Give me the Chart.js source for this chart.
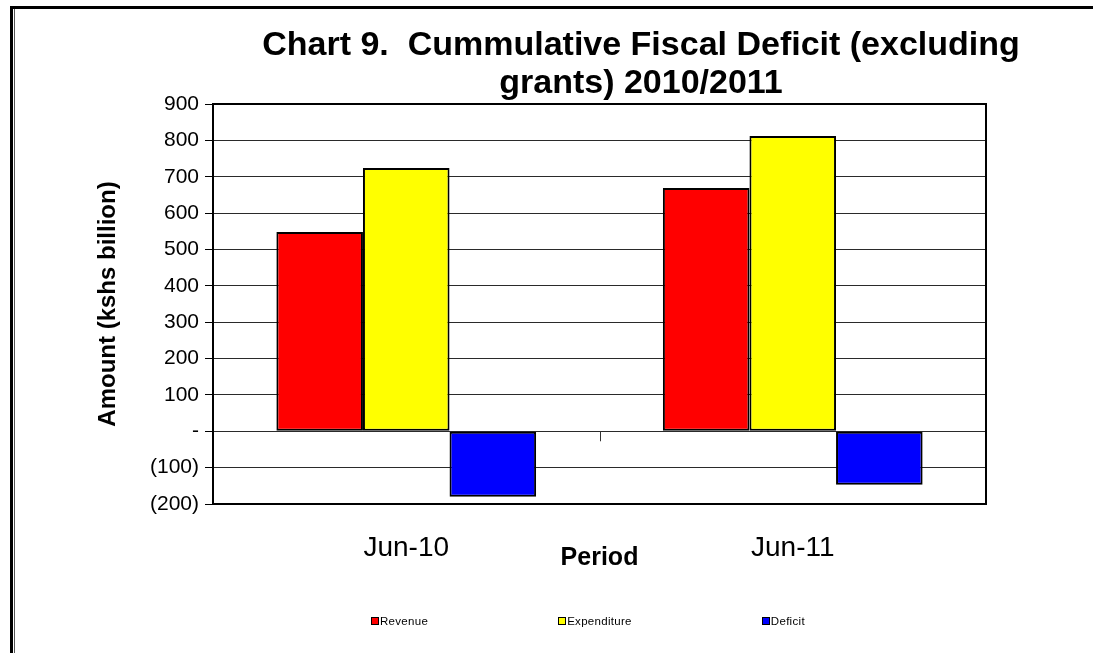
<!DOCTYPE html>
<html>
<head>
<meta charset="utf-8">
<script src="https://cdn.jsdelivr.net/npm/chart.js@4"></script>
<style>
  html, body { margin: 0; padding: 0; background: #fff; }
  #wrap { position: relative; width: 1093px; height: 653px; overflow: hidden; font-family: "Liberation Sans", Arial, sans-serif; }
  #salesChart { position: absolute; left: 0; top: 0; }
  .frame-top { position: absolute; left: 10px; right: 0; top: 6px; height: 3px; background: #000; }
  .frame-left { position: absolute; left: 10px; top: 6px; bottom: 0; width: 3px; background: #000; }
  .frame-left2 { position: absolute; left: 14px; top: 9px; bottom: 0; width: 1px; background: #555; }
  #title { position: absolute; left: 241px; width: 800px; top: 24px; text-align: center;
           font-weight: bold; font-size: 34px; line-height: 38px; color: #000; }
  #legend { position: absolute; left: 371px; top: 615px; display: flex; gap: 130px;
            font-size: 11.5px; letter-spacing: 0.3px; color: #000; }
  #legend .item { display: flex; align-items: center; gap: 1px; }
  #legend .box { width: 6px; height: 6px; border: 1px solid #000; }
</style>
</head>
<body>
<div id="wrap">
  <canvas id="salesChart" width="1093" height="653"></canvas>
  <div class="frame-top"></div>
  <div class="frame-left"></div>
  <div class="frame-left2"></div>
  <div id="title">Chart 9.&nbsp; Cummulative Fiscal Deficit (excluding<br>grants) 2010/2011</div>
  <div id="legend"></div>
</div>
<script>
// Данные графика
const periods = ['Jun-10', 'Jun-11'];
const revenue = [548, 669];
const expenditure = [724, 812];
const deficit = [-180, -147];

const seriesNames = ['Revenue', 'Expenditure', 'Deficit'];
const seriesColors = ['#ff0000', '#ffff00', '#0000ff'];

// рамка области графика и метка между категориями на нулевой линии
const plotFrame = {
  id: 'plotFrame',
  afterDatasetsDraw(chart) {
    const { ctx, chartArea: a, scales } = chart;
    ctx.save();
    ctx.strokeStyle = '#000';
    ctx.lineWidth = 2;
    ctx.strokeRect(a.left, a.top, a.right - a.left, a.bottom - a.top);
    const x = Math.round((scales.x.getPixelForTick(0) + scales.x.getPixelForTick(1)) / 2) + 0.5;
    const y0 = scales.y.getPixelForValue(0);
    ctx.lineWidth = 1;
    ctx.strokeStyle = '#333';
    ctx.beginPath();
    ctx.moveTo(x, y0);
    ctx.lineTo(x, y0 + 10);
    ctx.stroke();
    ctx.restore();
  }
};

const ctx = document.getElementById('salesChart');

const chart = new Chart(ctx, {
  type: 'bar',
  data: {
    labels: periods,
    datasets: [revenue, expenditure, deficit].map((vals, i) => ({
      label: seriesNames[i],
      data: vals,
      backgroundColor: seriesColors[i],
      borderColor: '#000',
      borderWidth: 2,
      borderSkipped: false,
      barPercentage: 1,
      categoryPercentage: 0.672
    }))
  },
  options: {
    responsive: false,
    animation: false,
    layout: { padding: { top: 104, right: 107, left: 0, bottom: 0 } },
    plugins: {
      legend: { display: false },
      title: { display: false },
      tooltip: { enabled: false }
    },
    scales: {
      x: {
        afterFit: (scale) => { scale.height = 149; },
        grid: { display: false, drawTicks: false },
        border: { display: false },
        ticks: {
          color: '#000',
          padding: 27,
          font: { family: 'Liberation Sans', size: 28 }
        },
        title: {
          display: true,
          text: 'Period',
          color: '#000',
          font: { family: 'Liberation Sans', size: 25, weight: 'bold' },
          padding: { top: 0, bottom: 80 }
        }
      },
      y: {
        min: -200,
        max: 900,
        afterFit: (scale) => { scale.width = 213; },
        grid: {
          color: '#2a2a2a',
          lineWidth: 1,
          tickLength: 8,
          tickColor: '#000'
        },
        border: { color: '#000', width: 2 },
        ticks: {
          stepSize: 100,
          color: '#000',
          padding: 6,
          font: { family: 'Liberation Sans', size: 21 },
          callback: function(value) {
            if (value === 0) return '-';
            if (value < 0) return '(' + Math.abs(value) + ')';
            return value;
          }
        },
        title: {
          display: true,
          text: 'Amount (kshs billion)',
          color: '#000',
          font: { family: 'Liberation Sans', size: 24, weight: 'bold' },
          padding: { top: 94, bottom: 0 }
        }
      }
    }
  },
  plugins: [plotFrame]
});

// Легенда под графиком
const legendEl = document.getElementById('legend');
chart.data.datasets.forEach(ds => {
  const item = document.createElement('div');
  item.className = 'item';
  const box = document.createElement('span');
  box.className = 'box';
  box.style.background = ds.backgroundColor;
  const text = document.createElement('span');
  text.textContent = ds.label;
  item.appendChild(box);
  item.appendChild(text);
  legendEl.appendChild(item);
});
</script>
</body>
</html>
